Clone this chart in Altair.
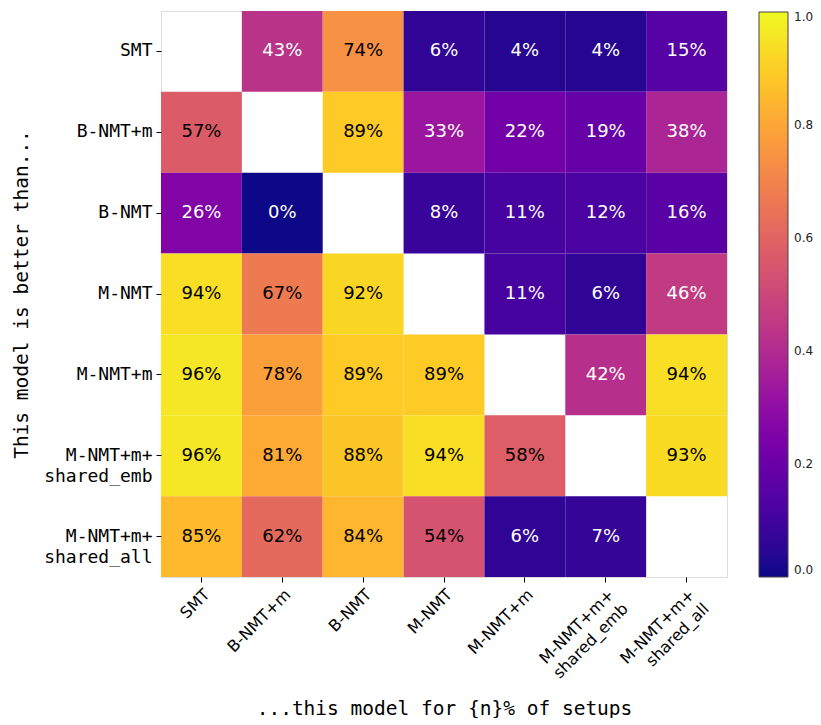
import altair as alt
import pandas as pd

models = ["SMT", "B-NMT+m", "B-NMT", "M-NMT", "M-NMT+m",
          "M-NMT+m+ shared_emb", "M-NMT+m+ shared_all"]

# rows: "This model is better than..." ; columns: "...this model for {n}% of setups"
row_smt = [None, 43, 74, 6, 4, 4, 15]
row_bnmt_m = [57, None, 89, 33, 22, 19, 38]
row_bnmt = [26, 0, None, 8, 11, 12, 16]
row_mnmt = [94, 67, 92, None, 11, 6, 46]
row_mnmt_m = [96, 78, 89, 89, None, 42, 94]
row_shared_emb = [96, 81, 88, 94, 58, None, 93]
row_shared_all = [85, 62, 84, 54, 6, 7, None]

rows = [row_smt, row_bnmt_m, row_bnmt, row_mnmt, row_mnmt_m,
        row_shared_emb, row_shared_all]

recs = []
for i, r in enumerate(rows):
    for j, v in enumerate(r):
        if v is None:
            continue
        recs.append({"row": models[i], "col": models[j], "v": v / 100.0,
                     "label": f"{v}%"})
df = pd.DataFrame(recs)

mono = "DejaVu Sans Mono"
sans = "DejaVu Sans"

x_enc = alt.X("col:N", sort=models, scale=alt.Scale(paddingInner=0, paddingOuter=0),
              axis=alt.Axis(title="...this model for {n}% of setups",
                            labelExpr="split(datum.label, ' ')",
                            labelAngle=-45, labelAlign="right", labelBaseline="top",
                            labelFont=sans, labelFontSize=16, labelColor="#000",
                            labelLineHeight=20, labelPadding=4,
                            titleFont=mono, titleFontSize=19.5, titleFontWeight="normal",
                            titleColor="#000", titleY=131, titleBaseline="middle",
                            tickColor="#000", tickSize=5, domain=False))
y_enc = alt.Y("row:N", sort=models, scale=alt.Scale(paddingInner=0, paddingOuter=0),
              axis=alt.Axis(title="This model is better than...",
                            labelExpr="split(datum.label, ' ')",
                            labelFont=mono, labelFontSize=18, labelColor="#000",
                            labelLineHeight=21, labelPadding=4, labelAlign="right",
                            labelBaseline="middle",
                            titleFont=mono, titleFontSize=19.5, titleFontWeight="normal",
                            titleColor="#000", titleX=-140, titleY=283,
                            titleAngle=-90, titleAlign="center", titleBaseline="middle",
                            tickColor="#000", tickSize=5, domain=False))

base = alt.Chart(df)

rects = base.mark_rect().encode(
    x=x_enc, y=y_enc,
    color=alt.Color("v:Q", scale=alt.Scale(scheme="plasma", domain=[0, 1]),
                    legend=alt.Legend(title=None, orient="none", legendX=598, legendY=1,
                                      gradientLength=565, gradientThickness=29,
                                      gradientStrokeColor="#444", gradientStrokeWidth=1,
                                      labelFont=sans, labelFontSize=12, labelColor="#222",
                                      labelOffset=6, padding=0,
                                      values=[0, 0.2, 0.4, 0.6, 0.8, 1.0],
                                      format=".1f", direction="vertical")),
)

texts = base.mark_text(font=sans, fontSize=18).encode(
    x=alt.X("col:N", sort=models),
    y=alt.Y("row:N", sort=models),
    text="label:N",
    color=alt.condition("datum.v >= 0.5", alt.value("#000"), alt.value("#fff")),
)

chart = alt.layer(rects, texts).properties(
    width=566, height=566,
    padding={"left": 153, "top": 3, "right": 86, "bottom": 141},
    autosize="none",
).configure_view(stroke="#000", strokeWidth=1).configure(background="white")

chart.save("out.html", embed_options={"renderer": "svg", "actions": False})
